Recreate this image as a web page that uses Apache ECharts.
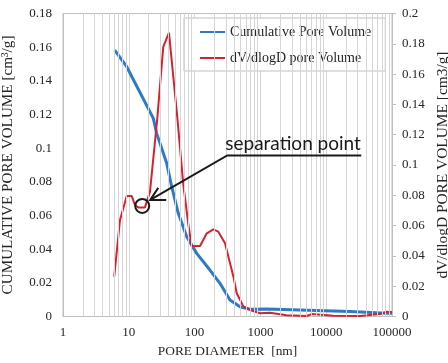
<!DOCTYPE html>
<html><head><meta charset="utf-8">
<script src="https://cdn.jsdelivr.net/npm/echarts@6/dist/echarts.min.js"></script>
<style>html,body{margin:0;padding:0;background:#fff}#c{width:448px;height:363px}</style>
</head><body><div id="c"></div>
<script>
// Cumulative pore volume (left axis) [diameter nm, cm3/g]
const cumDiam = [6.1, 9.3, 23.6, 26.5, 37.7, 44.9, 56.5, 75.9, 107.6, 171, 243, 345, 490, 695, 1250, 4000, 23000, 83000, 100000];
const cumVol  = [0.1583, 0.1484, 0.1177, 0.1088, 0.091, 0.0771, 0.0613, 0.0474, 0.0375, 0.0276, 0.0197, 0.0098, 0.0058, 0.0043, 0.0045, 0.0039, 0.0029, 0.0019, 0.0019];
// dV/dlogD pore volume (right axis)
const difDiam = [6.0, 7.35, 9.3, 11.1, 12.4, 13.9, 17.6, 21, 27.1, 33.4, 40.8, 55, 67, 80, 90, 121, 153, 193, 229, 290, 389, 437, 550, 695, 986, 1400, 2500, 5000, 6000, 12800, 32700, 65600, 83000, 100000];
const difVol  = [0.0263, 0.0637, 0.0795, 0.0795, 0.0736, 0.072, 0.072, 0.0824, 0.1308, 0.178, 0.1873, 0.13, 0.088, 0.0615, 0.0465, 0.0465, 0.0549, 0.0575, 0.056, 0.0483, 0.0263, 0.0153, 0.0067, 0.0043, 0.0021, 0.0025, 0.0008, 0.0003, 0.0016, 0.0005, 0.0003, 0.0016, 0.0032, 0.003];
const xTicks = [1, 10, 100, 1000, 10000, 100000];
const sepPoint = [16.0, 0.073];

const minorLines = [];
for (let d = 0; d < 5; d++) for (let m = 2; m <= 9; m++) minorLines.push({xAxis: m * Math.pow(10, d)});

const serif = '"Liberation Serif", "Times New Roman", serif';
const axisGray = '#bfbfbf';
const gridGray = '#d6d6d6';
const txt = '#262626';
const chart = echarts.init(document.getElementById('c'), null, {renderer: 'canvas'});
const option = {
  animation: false,
  grid: {left: 63, right: 56, top: 13.5, bottom: 46.5, show: true, borderColor: axisGray, borderWidth: 1, outerBoundsMode: 'none', containLabel: false},
  legend: {
    left: 184, top: 18, orient: 'vertical',
    backgroundColor: '#fff', borderColor: '#bfbfbf', borderWidth: 1,
    padding: [7, 14, 6, 15], itemGap: 12, itemWidth: 25, itemHeight: 15,
    itemStyle: {opacity: 0},
    textStyle: {fontFamily: serif, fontSize: 14, color: txt}
  },
  xAxis: {
    type: 'log', logBase: 10, min: 1, max: 100000,
    axisLine: {lineStyle: {color: axisGray}}, axisTick: {show: false},
    axisLabel: {fontFamily: serif, fontSize: 13, color: txt, margin: 10, formatter: v => String(Math.round(v))},
    splitLine: {show: true, lineStyle: {color: gridGray, width: 1}},
    name: 'PORE DIAMETER  [nm]', nameLocation: 'middle', nameGap: 28,
    nameTextStyle: {fontFamily: serif, fontSize: 13.4, color: txt}
  },
  yAxis: [{
    type: 'value', min: 0, max: 0.18, interval: 0.02,
    axisLine: {show: true, lineStyle: {color: axisGray}}, axisTick: {show: false},
    splitLine: {show: false},
    axisLabel: {fontFamily: serif, fontSize: 13, color: txt, margin: 11, formatter: v => String(+v.toFixed(2))},
    name: 'CUMULATIVE PORE VOLUME [cm³/g]', nameLocation: 'middle', nameGap: 47,
    nameTextStyle: {fontFamily: serif, fontSize: 15.2, color: txt}
  }, {
    type: 'value', min: 0, max: 0.2, interval: 0.02, position: 'right',
    axisLine: {show: true, lineStyle: {color: axisGray}},
    axisTick: {show: true, length: 4, lineStyle: {color: axisGray}},
    splitLine: {show: false},
    axisLabel: {fontFamily: serif, fontSize: 13, color: txt, margin: 10, formatter: v => String(+v.toFixed(2))},
    name: 'dV/dlogD PORE VOLUME [cm3/g]', nameLocation: 'middle', nameGap: 42,
    nameTextStyle: {fontFamily: serif, fontSize: 15.4, color: txt}
  }],
  series: [{
    name: 'Cumulative Pore Volume', type: 'line', yAxisIndex: 0, symbol: 'none', z: 3,
    data: cumDiam.map((d, i) => [d, cumVol[i]]),
    lineStyle: {color: '#2f7bc3', width: 3}, itemStyle: {color: '#2f7bc3'},
    markLine: {silent: true, symbol: 'none', label: {show: false}, animation: false,
      lineStyle: {color: gridGray, width: 1, type: 'solid'}, emphasis: {disabled: true}, data: minorLines}
  }, {
    name: 'dV/dlogD pore Volume', type: 'line', yAxisIndex: 1, symbol: 'none', z: 4,
    data: difDiam.map((d, i) => [d, difVol[i]]),
    lineStyle: {color: '#cf2431', width: 2}, itemStyle: {color: '#cf2431'}
  }]
};
chart.setOption(option);
// annotation anchored at the separation point
const c = chart.convertToPixel({xAxisIndex: 0, yAxisIndex: 1}, sepPoint);
const cx = c[0], cy = c[1];
const tip = [cx + 8, cy - 6];
const elbow = [cx + 85, cy - 50.5];
const ink = '#1a1a1a';
chart.setOption({graphic: [
  {type: 'circle', shape: {cx: cx, cy: cy, r: 7}, style: {fill: 'none', stroke: ink, lineWidth: 2}, z: 10},
  {type: 'polyline', shape: {points: [[elbow[0] + 134, elbow[1]], elbow, tip]}, style: {fill: 'none', stroke: ink, lineWidth: 2}, z: 10},
  {type: 'polyline', shape: {points: [[tip[0] + 8, tip[1] - 12], tip, [tip[0] + 16, tip[1]]]}, style: {fill: 'none', stroke: ink, lineWidth: 2}, z: 10},
  {type: 'text', x: elbow[0] - 2, y: elbow[1] - 2, style: {text: 'separation point', font: '19px Lato, "Open Sans", sans-serif', fill: ink, verticalAlign: 'bottom'}, z: 10}
]});
</script></body></html>
